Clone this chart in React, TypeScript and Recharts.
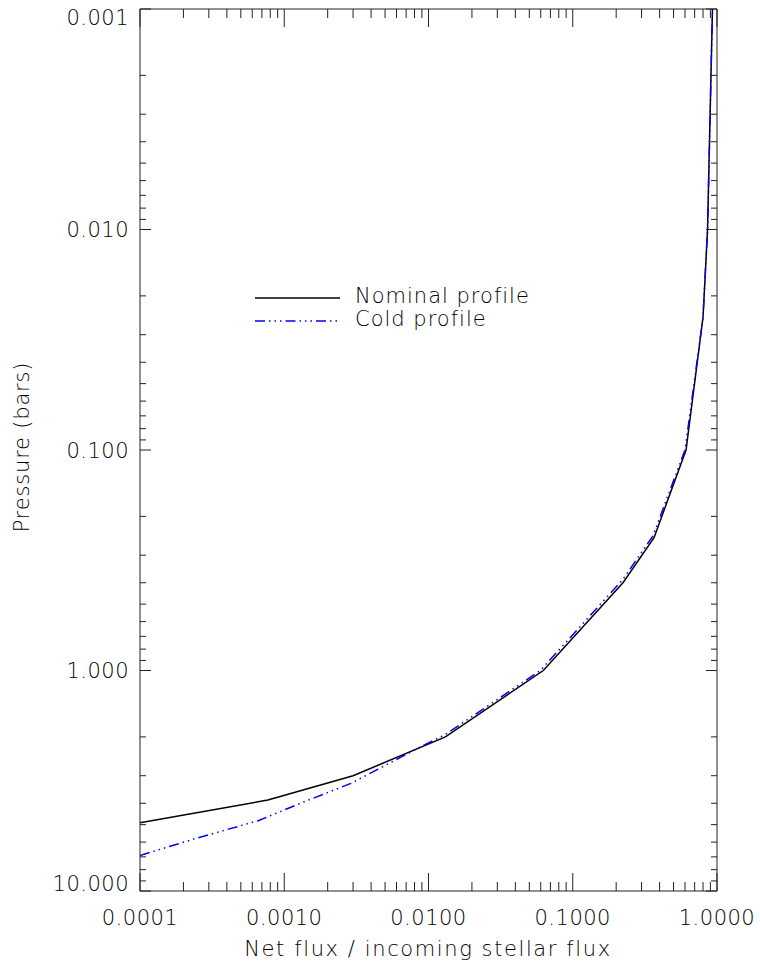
import { LineChart, Line, XAxis, YAxis } from "recharts"

// flux ratio (x) vs pressure in bars (y)
const nominalFlux = [0.0001, 0.00077, 0.003, 0.0131, 0.0625, 0.223, 0.366, 0.61, 0.8, 0.86, 0.93]
const nominalPressure = [4.9, 3.87, 3.0, 2.0, 1.0, 0.4, 0.25, 0.1, 0.025, 0.01, 0.001]

const coldFlux = [0.0001, 0.00025, 0.00066, 0.00136, 0.0029, 0.0088, 0.0131, 0.0596, 0.22, 0.36, 0.6, 0.8, 0.86, 0.93]
const coldPressure = [6.9, 5.75, 4.8, 3.95, 3.25, 2.22, 1.95, 1.0, 0.39, 0.245, 0.1, 0.025, 0.01, 0.001]

const xMajors = [0.0001, 0.001, 0.01, 0.1, 1]
const xTickLabels = ["0.0001", "0.0010", "0.0100", "0.1000", "1.0000"]
const yMajors = [0.001, 0.01, 0.1, 1, 10]
const yTickLabels = ["0.001", "0.010", "0.100", "1.000", "10.000"]

const nominalData = nominalFlux.map((f, i) => ({ flux: f, pressure: nominalPressure[i] }))
const coldData = coldFlux.map((f, i) => ({ flux: f, pressure: coldPressure[i] }))

const withMinors = (majors: number[]) => {
  const out: number[] = []
  majors.forEach((m, i) => {
    out.push(m)
    if (i < majors.length - 1) {
      for (let k = 2; k <= 9; k++) out.push(m * k)
    }
  })
  return out
}

const xTicks = withMinors(xMajors)
const yTicks = withMinors(yMajors)

const FONT = "'DejaVu Sans', sans-serif"
const INK = "#222"
const TEXT = "#000"

const majorIndex = (majors: number[], v: number) =>
  majors.findIndex((m) => Math.abs(Math.log10(m) - Math.log10(v)) < 1e-6)

const BottomTick = ({ x, y, payload }: any) => {
  const idx = majorIndex(xMajors, payload.value)
  const len = idx >= 0 ? 18 : 9
  return (
    <g>
      <line x1={x} y1={y} x2={x} y2={y - len} stroke={INK} strokeWidth={1} />
      {idx >= 0 && (
        <text x={x} y={y + 34} textAnchor="middle" fontFamily={FONT} fontWeight={200} fontSize={21} letterSpacing={0.5} fill={TEXT}>
          {xTickLabels[idx]}
        </text>
      )}
    </g>
  )
}

const TopTick = ({ x, y, payload }: any) => {
  const idx = majorIndex(xMajors, payload.value)
  const len = idx >= 0 ? 18 : 9
  return <line x1={x} y1={y} x2={x} y2={y + len} stroke={INK} strokeWidth={1} />
}

const LeftTick = ({ x, y, payload }: any) => {
  const idx = majorIndex(yMajors, payload.value)
  const len = idx >= 0 ? 11 : 6
  let base = y + 7.5
  if (idx === 0) base = y + 16
  if (idx === yMajors.length - 1) base = y
  return (
    <g>
      <line x1={x} y1={y} x2={x + len} y2={y} stroke={INK} strokeWidth={1} />
      {idx >= 0 && (
        <text x={x - 11} y={base} textAnchor="end" fontFamily={FONT} fontWeight={200} fontSize={21} letterSpacing={0.5} fill={TEXT}>
          {yTickLabels[idx]}
        </text>
      )}
    </g>
  )
}

const RightTick = ({ x, y, payload }: any) => {
  const idx = majorIndex(yMajors, payload.value)
  const len = idx >= 0 ? 11 : 6
  return <line x1={x} y1={y} x2={x - len} y2={y} stroke={INK} strokeWidth={1} />
}

const COLD_DASH = "10 4 1.5 4 1.5 4 1.5 4"

export default function App() {
  return (
    <div style={{ position: "absolute", left: 0, top: 0, width: 760, height: 964, background: "#fff" }}>
      <LineChart width={760} height={964} margin={{ top: 8, right: 42, bottom: 72, left: 139 }}>
        <XAxis
          xAxisId="bottom"
          dataKey="flux"
          type="number"
          scale="log"
          domain={[0.0001, 1]}
          allowDataOverflow
          ticks={xTicks}
          interval={0}
          height={1}
          tickSize={0}
          tickMargin={0}
          tickLine={false}
          tick={BottomTick}
          axisLine={{ stroke: INK }}
        />
        <XAxis
          xAxisId="top"
          orientation="top"
          dataKey="flux"
          type="number"
          scale="log"
          domain={[0.0001, 1]}
          allowDataOverflow
          ticks={xTicks}
          interval={0}
          height={1}
          tickSize={0}
          tickMargin={0}
          tickLine={false}
          tick={TopTick}
          axisLine={{ stroke: INK }}
        />
        <YAxis
          yAxisId="left"
          dataKey="pressure"
          type="number"
          scale="log"
          domain={[0.001, 10]}
          reversed
          allowDataOverflow
          ticks={yTicks}
          interval={0}
          width={1}
          tickSize={0}
          tickMargin={0}
          tickLine={false}
          tick={LeftTick}
          axisLine={{ stroke: INK }}
        />
        <YAxis
          yAxisId="right"
          orientation="right"
          dataKey="pressure"
          type="number"
          scale="log"
          domain={[0.001, 10]}
          reversed
          allowDataOverflow
          ticks={yTicks}
          interval={0}
          width={1}
          tickSize={0}
          tickMargin={0}
          tickLine={false}
          tick={RightTick}
          axisLine={{ stroke: INK }}
        />
        <Line
          xAxisId="bottom"
          yAxisId="left"
          data={nominalData}
          dataKey="pressure"
          type="linear"
          stroke="#000"
          strokeWidth={1.5}
          dot={false}
          isAnimationActive={false}
        />
        <Line
          xAxisId="bottom"
          yAxisId="left"
          data={coldData}
          dataKey="pressure"
          type="linear"
          stroke="#0000ff"
          strokeWidth={1.5}
          strokeDasharray={COLD_DASH}
          dot={false}
          isAnimationActive={false}
        />
      </LineChart>

      {/* legend + axis titles */}
      <svg width={760} height={964} style={{ position: "absolute", left: 0, top: 0, pointerEvents: "none" }}>
        <line x1={255} y1={298} x2={340} y2={298} stroke="#000" strokeWidth={1.5} />
        <text x={355} y={303} fontFamily={FONT} fontWeight={200} fontSize={21} letterSpacing={1} fill={TEXT}>
          Nominal profile
        </text>
        <line x1={255} y1={321} x2={340} y2={321} stroke="#0000ff" strokeWidth={1.5} strokeDasharray={COLD_DASH} />
        <text x={355} y={326} fontFamily={FONT} fontWeight={200} fontSize={21} letterSpacing={1} fill={TEXT}>
          Cold profile
        </text>
        <text x={428} y={956} textAnchor="middle" fontFamily={FONT} fontWeight={200} fontSize={21} letterSpacing={1.6} fill={TEXT}>
          Net flux / incoming stellar flux
        </text>
        <text
          x={29}
          y={447}
          textAnchor="middle"
          transform="rotate(-90 29 447)"
          fontFamily={FONT}
          fontWeight={200}
          fontSize={21}
          letterSpacing={0.8}
          fill={TEXT}
        >
          Pressure (bars)
        </text>
      </svg>
    </div>
  )
}
